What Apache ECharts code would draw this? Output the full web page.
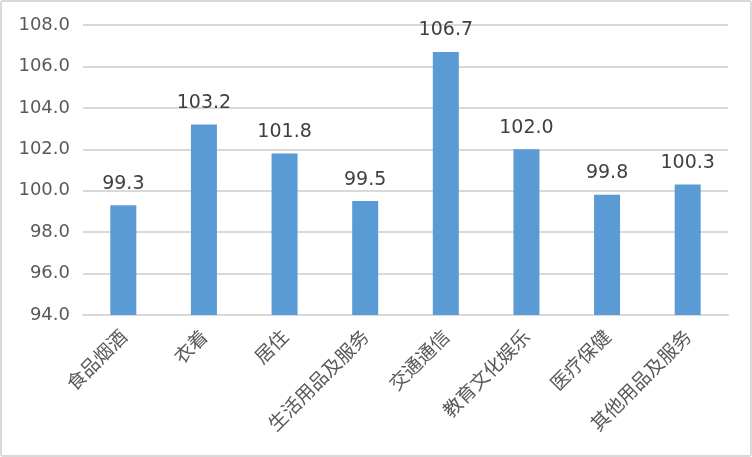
<!DOCTYPE html>
<html>
<head>
<meta charset="utf-8">
<script src="https://cdn.jsdelivr.net/npm/echarts@6/dist/echarts.min.js"></script>
<style>
  html, body { margin: 0; padding: 0; background: #fff; }
  #chart {
    width: 748px;
    height: 453px;
    border: 2px solid #d9d9d9;
    border-radius: 3px;
  }
</style>
</head>
<body>
<div id="chart"></div>
<script>
const categories = ["食品烟酒", "衣着", "居住", "生活用品及服务", "交通通信", "教育文化娱乐", "医疗保健", "其他用品及服务"]
const values = [99.3, 103.2, 101.8, 99.5, 106.7, 102.0, 99.8, 100.3]

let myChart = echarts.init(document.getElementById("chart"))
myChart.setOption({
  animation: false,
  grid: {
    left: 81,
    right: 22,
    top: 23,
    bottom: 140
  },
  xAxis: {
    type: "category",
    data: categories,
    axisLine: { lineStyle: { color: "#d9d9d9", width: 2 } },
    axisTick: { show: false },
    axisLabel: {
      rotate: 45,
      interval: 0,
      color: "#595959",
      fontSize: 19,
      margin: 18,
      fontFamily: "Noto Sans CJK SC"
    }
  },
  yAxis: {
    type: "value",
    min: 94,
    max: 108,
    interval: 2,
    axisLine: { show: false },
    axisTick: { show: false },
    splitLine: { lineStyle: { color: "#d9d9d9", width: 2 } },
    axisLabel: {
      color: "#595959",
      fontSize: 18,
      margin: 13,
      fontFamily: "DejaVu Sans",
      formatter: v => v.toFixed(1)
    }
  },
  series: [
    {
      type: "bar",
      data: values,
      barWidth: 26,
      itemStyle: { color: "#5b9bd5" },
      label: {
        show: true,
        position: "top",
        distance: 12,
        color: "#404040",
        fontSize: 19,
        fontFamily: "DejaVu Sans",
        formatter: p => p.value.toFixed(1)
      }
    }
  ]
})
</script>
</body>
</html>
